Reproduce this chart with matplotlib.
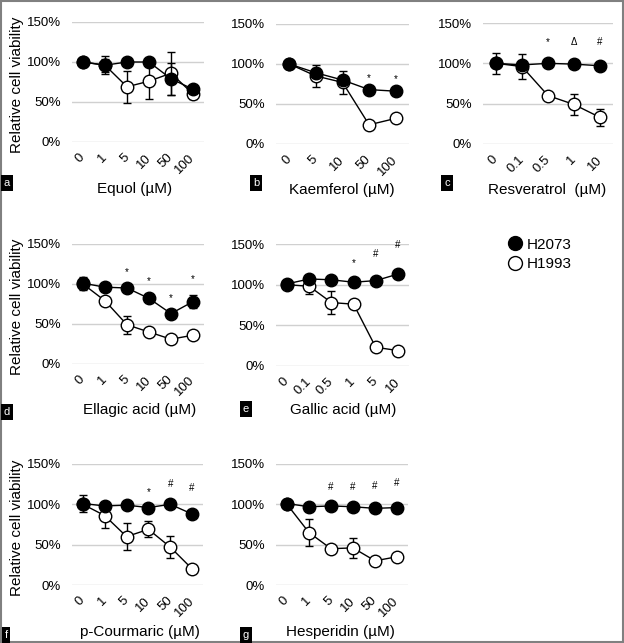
import matplotlib
matplotlib.use('Agg')
import matplotlib.pyplot as plt
from matplotlib.patches import Rectangle
from matplotlib.lines import Line2D

plt.rcParams['font.family'] = ['Liberation Sans', 'DejaVu Sans']

# ---- data (relative viability in %) ----
equol_conc = ['0', '1', '5', '10', '50', '100']
equol_h2073 = [100, 96, 100, 100, 79, 66]
equol_h2073_err = [3, 11, 3, 4, 20, 5]
equol_h1993 = [100, 96, 69, 76, 86, 60]
equol_h1993_err = [3, 8, 20, 22, 27, 6]
equol_marks = ['', '', '', '', '', '']
equol_mark_y = [0, 0, 0, 0, 0, 0]

kaem_conc = ['0', '5', '10', '50', '100']
kaem_h2073 = [100, 89, 80, 68, 66]
kaem_h2073_err = [3, 6, 5, 3, 3]
kaem_h1993 = [100, 85, 77, 24, 32]
kaem_h1993_err = [3, 14, 14, 2, 2]
kaem_marks = ['', '', '', '*', '*']
kaem_mark_y = [0, 0, 0, 82, 81]

resv_conc = ['0', '0.1', '0.5', '1', '10']
resv_h2073 = [100, 98, 100, 99, 97]
resv_h2073_err = [5, 5, 2, 2, 2]
resv_h1993 = [100, 96, 60, 49, 33]
resv_h1993_err = [13, 16, 3, 13, 11]
resv_marks = ['', '', '*', '\u0394', '#']
resv_mark_y = [0, 0, 126, 126, 126]

ellag_conc = ['0', '1', '5', '10', '50', '100']
ellag_h2073 = [101, 96, 95, 82, 63, 78]
ellag_h2073_err = [8, 3, 4, 4, 3, 8]
ellag_h1993 = [100, 79, 49, 40, 31, 36]
ellag_h1993_err = [5, 3, 11, 3, 2, 3]
ellag_marks = ['', '', '*', '*', '*', '*']
ellag_mark_y = [0, 0, 115, 104, 83, 106]

gallic_conc = ['0', '0.1', '0.5', '1', '5', '10']
gallic_h2073 = [101, 107, 106, 103, 105, 113]
gallic_h2073_err = [2, 3, 3, 3, 3, 3]
gallic_h1993 = [100, 98, 78, 76, 23, 19]
gallic_h1993_err = [3, 10, 14, 3, 2, 2]
gallic_marks = ['', '', '', '*', '#', '#']
gallic_mark_y = [0, 0, 0, 127, 138, 149]

coum_conc = ['0', '1', '5', '10', '50', '100']
coum_h2073 = [101, 98, 99, 96, 100, 88]
coum_h2073_err = [10, 3, 3, 3, 3, 3]
coum_h1993 = [100, 86, 60, 69, 47, 20]
coum_h1993_err = [5, 15, 17, 10, 14, 2]
coum_marks = ['', '', '', '*', '#', '#']
coum_mark_y = [0, 0, 0, 115, 125, 120]

hesp_conc = ['0', '1', '5', '10', '50', '100']
hesp_h2073 = [101, 97, 98, 97, 95, 96]
hesp_h2073_err = [2, 3, 3, 3, 3, 3]
hesp_h1993 = [100, 65, 45, 46, 30, 35]
hesp_h1993_err = [2, 17, 3, 12, 3, 3]
hesp_marks = ['', '', '#', '#', '#', '#']
hesp_mark_y = [0, 0, 122, 121, 123, 126]

W, H = 624, 643
fig = plt.figure(figsize=(W / 100, H / 100), dpi=100)

# panel: (data..., axes box in pixels x0, x1, y_top(150%), y_bottom(0%), letter, xlabel, ylabel?)
panels = [
    (equol_conc, equol_h2073, equol_h2073_err, equol_h1993, equol_h1993_err, equol_marks, equol_mark_y,
     (72, 204, 22, 142), 'a', (7, 183), 'Equol (\u00b5M)', (135, 189), True),
    (kaem_conc, kaem_h2073, kaem_h2073_err, kaem_h1993, kaem_h1993_err, kaem_marks, kaem_mark_y,
     (276, 409, 24, 144), 'b', (256, 183), 'Kaemferol (\u00b5M)', (342, 190), False),
    (resv_conc, resv_h2073, resv_h2073_err, resv_h1993, resv_h1993_err, resv_marks, resv_mark_y,
     (483, 613, 23, 144), 'c', (447, 183), 'Resveratrol  (\u00b5M)', (547, 190), False),
    (ellag_conc, ellag_h2073, ellag_h2073_err, ellag_h1993, ellag_h1993_err, ellag_marks, ellag_mark_y,
     (72, 204, 244, 364), 'd', (7, 412), 'Ellagic acid (\u00b5M)', (140, 410), True),
    (gallic_conc, gallic_h2073, gallic_h2073_err, gallic_h1993, gallic_h1993_err, gallic_marks, gallic_mark_y,
     (276, 409, 244, 366), 'e', (246, 409), 'Gallic acid (\u00b5M)', (343, 410), False),
    (coum_conc, coum_h2073, coum_h2073_err, coum_h1993, coum_h1993_err, coum_marks, coum_mark_y,
     (72, 203, 464, 585), 'f', (6, 635), 'p-Courmaric (\u00b5M)', (140, 632), True),
    (hesp_conc, hesp_h2073, hesp_h2073_err, hesp_h1993, hesp_h1993_err, hesp_marks, hesp_mark_y,
     (276, 408, 464, 585), 'g', (246, 635), 'Hesperidin (\u00b5M)', (340, 632), False),
]

for conc, v1, e1, v2, e2, marks, mark_y, box, letter, lpos, xlab, xpos, show_ylab in panels:
    x0, x1, yt, yb = box
    ax = fig.add_axes([x0 / W, 1 - yb / H, (x1 - x0) / W, (yb - yt) / H])
    x = list(range(len(conc)))
    # open circles first, filled on top
    ax.errorbar(x, v2, yerr=e2, color='black', lw=1, elinewidth=1, capsize=3, capthick=1,
                marker='o', ms=9, mfc='white', mec='black', mew=1, zorder=3, clip_on=False)
    ax.errorbar(x, v1, yerr=e1, color='black', lw=1, elinewidth=1, capsize=3, capthick=1,
                marker='o', ms=9, mfc='black', mec='black', zorder=4, clip_on=False)
    for xi, m, my in zip(x, marks, mark_y):
        if m:
            ax.text(xi, my, m, ha='center', va='center', fontsize=7, clip_on=False)
    ax.set_xlim(-0.5, len(conc) - 0.5)
    ax.set_ylim(0, 150)
    ax.set_yticks([0, 50, 100, 150])
    ax.set_yticklabels(['0%', '50%', '100%', '150%'], fontsize=9.5)
    ax.set_xticks(x)
    ax.set_xticklabels(conc, fontsize=9.5, rotation=45, ha='right', va='center', rotation_mode='anchor')
    ax.tick_params(length=0)
    ax.tick_params(axis='y', pad=8)
    ax.tick_params(axis='x', pad=10)
    ax.grid(axis='y', color='#d0d0d0', lw=1)
    ax.set_axisbelow(True)
    for s in ax.spines.values():
        s.set_visible(False)

    fig.text(xpos[0] / W, 1 - xpos[1] / H, xlab, ha='center', va='center', fontsize=11)
    fig.text(lpos[0] / W, 1 - lpos[1] / H, letter, ha='center', va='center', fontsize=8, color='white',
             bbox=dict(boxstyle='square,pad=0.25', fc='black', ec='none'))
    if show_ylab:
        fig.text(17 / W, 1 - ((yt + yb) / 2 + 3) / H, 'Relative cell viability', rotation=90,
                 ha='center', va='center', fontsize=11)

handles = [
    Line2D([], [], marker='o', ls='none', ms=10, mfc='black', mec='black'),
    Line2D([], [], marker='o', ls='none', ms=10, mfc='white', mec='black'),
]
fig.legend(handles, ['H2073', 'H1993'], loc='upper left', bbox_to_anchor=(498 / W, 1 - 230 / H),
           frameon=False, fontsize=11, handletextpad=0.2, labelspacing=0.35, borderpad=0, handlelength=1.2)

fig.add_artist(Rectangle((0.002, 0.002), 0.996, 0.996, transform=fig.transFigure, fill=False,
                         ec='#808080', lw=1.5))

fig.savefig('out.png', dpi=100)
